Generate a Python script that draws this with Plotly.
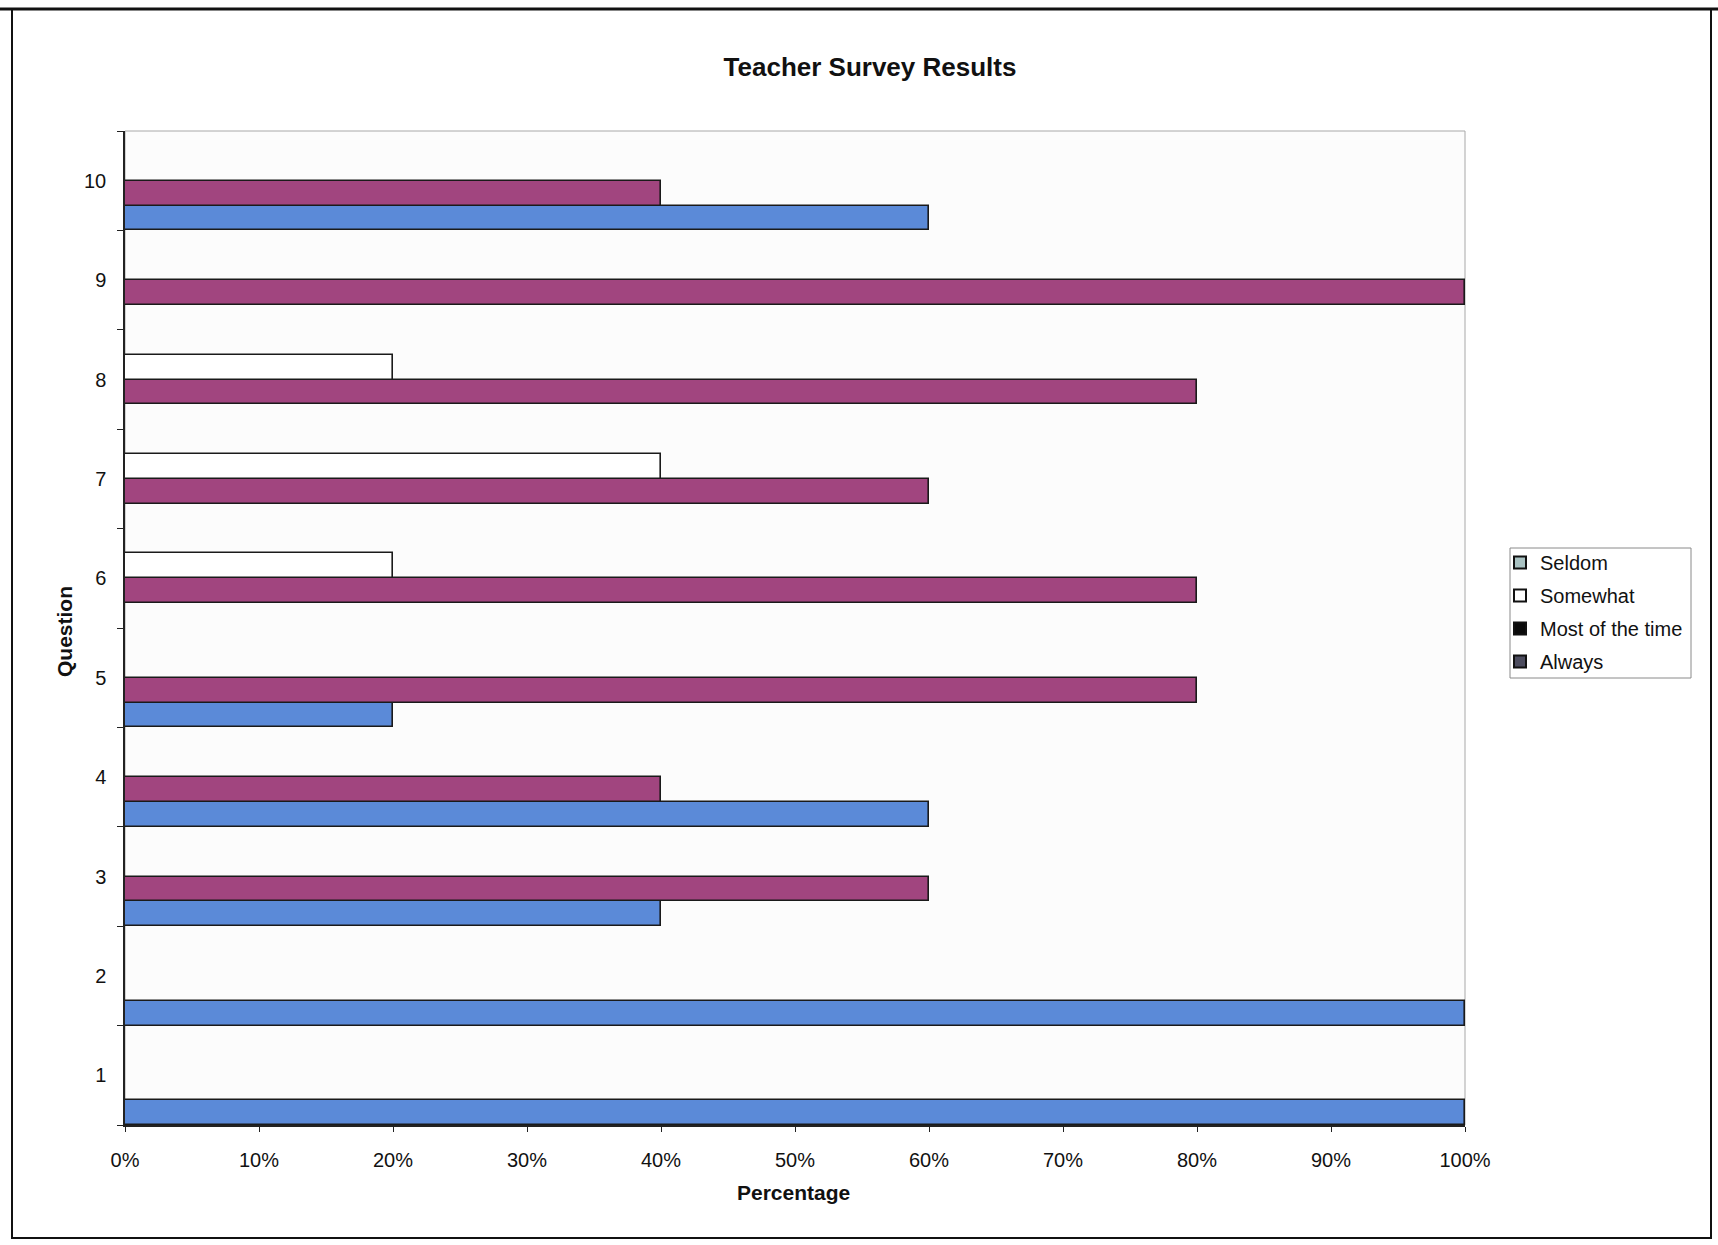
import plotly.graph_objects as go

# Survey data: share of responses per question (fractions of 1)
questions = [1, 2, 3, 4, 5, 6, 7, 8, 9, 10]
series_names = ["Seldom", "Somewhat", "Most of the time", "Always"]
seldom = [0, 0, 0, 0, 0, 0, 0, 0, 0, 0]
somewhat = [0, 0, 0, 0, 0, 0.2, 0.4, 0.2, 0, 0]
most_of_the_time = [0, 0, 0.6, 0.4, 0.8, 0.8, 0.6, 0.8, 1.0, 0.4]
always = [1.0, 1.0, 0.4, 0.6, 0.2, 0, 0, 0, 0, 0.6]
x_ticks = [0, 0.1, 0.2, 0.3, 0.4, 0.5, 0.6, 0.7, 0.8, 0.9, 1.0]

bar_colors = {
    "Always": "#5b8ad8",
    "Most of the time": "#a1457f",
    "Somewhat": "#ffffff",
    "Seldom": "#a9c2c2",
}
legend_colors = {
    "Seldom": "#a9c2c2",
    "Somewhat": "#ffffff",
    "Most of the time": "#0a0a0a",
    "Always": "#4c4c5e",
}

W, H = 1718, 1245
L, R, T, B = 125, 1465, 131, 1125
pw, ph = R - L, B - T


def px(x):
    return (x - L) / pw


def py(y):
    return (B - y) / ph


FONT = "Liberation Sans, Arial, sans-serif"

fig = go.Figure()

# bars: first trace sits at the bottom of each question's group
for name, vals in [("Always", always), ("Most of the time", most_of_the_time),
                   ("Somewhat", somewhat), ("Seldom", seldom)]:
    fig.add_trace(go.Bar(
        y=questions, x=vals, orientation="h", name=name,
        marker=dict(color=bar_colors[name], line=dict(color="#1a1a1a", width=1.6)),
        showlegend=False, hoverinfo="x+y+name",
    ))

# legend entries, one group each so the rows can be spaced apart
for name in series_names:
    fig.add_trace(go.Scatter(
        x=[None], y=[None], mode="markers", name=name, legendgroup=name,
        marker=dict(symbol="square", size=13, color=legend_colors[name],
                    line=dict(color="#111111", width=1.5)),
        showlegend=True,
    ))

fig.update_layout(
    width=W, height=H,
    margin=dict(l=L, r=W - R, t=T, b=H - B, pad=0),
    paper_bgcolor="#ffffff",
    plot_bgcolor="#fcfcfc",
    barmode="group", bargap=0.0, bargroupgap=0.0,
    font=dict(family=FONT, size=20, color="#111111"),
    title=dict(text="<b>Teacher Survey Results</b>", xref="paper", x=px(870),
               xanchor="center", yref="container", y=1 - 67 / H, yanchor="middle",
               font=dict(family=FONT, size=26, color="#111111")),
    legend=dict(x=px(1500), y=py(543), xanchor="left", yanchor="top",
                bgcolor="rgba(0,0,0,0)", borderwidth=0,
                font=dict(family=FONT, size=20, color="#111111"),
                itemsizing="constant", tracegroupgap=4, itemwidth=30),
    showlegend=True,
)

fig.update_xaxes(
    range=[0, 1], tickvals=x_ticks, tickformat=".0%",
    showgrid=False, zeroline=False,
    showline=True, linecolor="#222222", linewidth=1.5,
    ticks="outside", ticklen=5, tickcolor="#222222", ticklabelstandoff=11,
    tickfont=dict(family=FONT, size=20, color="#111111"),
)
fig.update_yaxes(
    range=[0.5, 10.5], tickvals=questions,
    showgrid=False, zeroline=False,
    showline=True, linecolor="#222222", linewidth=1.5,
    ticks="", ticklabelstandoff=13,
    tickfont=dict(family=FONT, size=20, color="#111111"),
    minor=dict(tickvals=[q + 0.5 for q in [0] + questions], ticks="outside",
               ticklen=6, tickcolor="#222222"),
)

# plot area outline (top and right edges are light)
fig.add_shape(type="rect", xref="paper", yref="paper", x0=0, x1=1, y0=0, y1=1,
              line=dict(color="#a8a8a8", width=1), layer="below")
# legend box
fig.add_shape(type="rect", xref="paper", yref="paper",
              x0=px(1510), x1=px(1691), y0=py(678), y1=py(548),
              line=dict(color="#8a8a8a", width=1), fillcolor="#ffffff", layer="below")
# chart frame
fig.add_shape(type="rect", xref="paper", yref="paper",
              x0=px(12), x1=px(1711), y0=py(1238), y1=py(9),
              line=dict(color="#111111", width=2))
fig.add_shape(type="line", xref="paper", yref="paper",
              x0=px(0), x1=px(W), y0=py(9), y1=py(9),
              line=dict(color="#111111", width=3))

# axis titles
fig.add_annotation(text="<b>Percentage</b>", xref="paper", yref="paper",
                   x=px(793), y=py(1192), xanchor="center", yanchor="middle",
                   showarrow=False, font=dict(family=FONT, size=21, color="#111111"))
fig.add_annotation(text="<b>Question</b>", xref="paper", yref="paper",
                   x=px(64), y=py(632), xanchor="center", yanchor="middle",
                   textangle=-90, showarrow=False,
                   font=dict(family=FONT, size=21, color="#111111"))

fig.write_html("out.html")
